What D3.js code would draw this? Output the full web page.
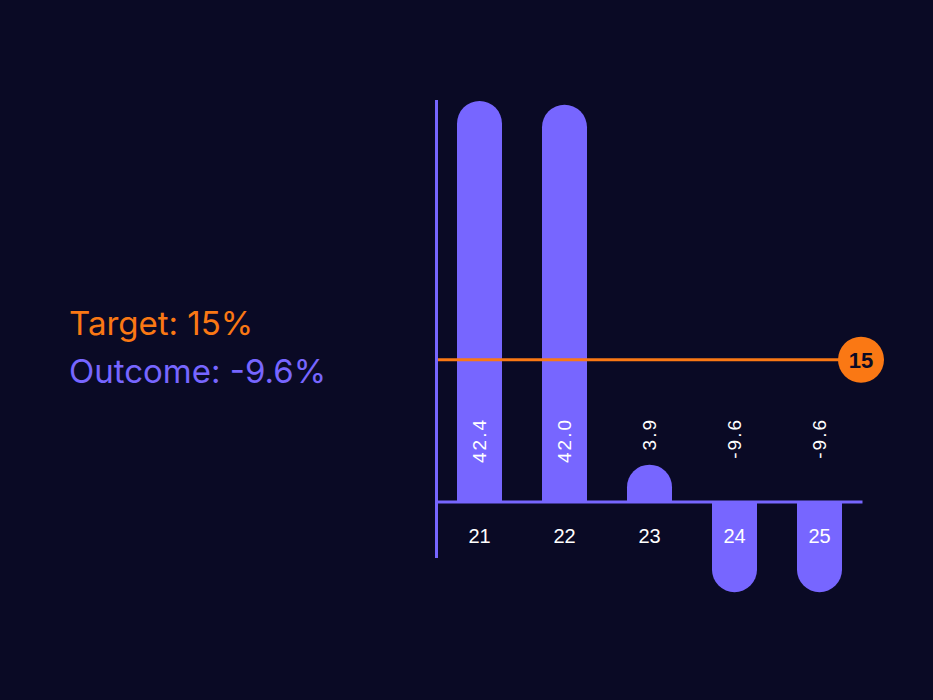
<!DOCTYPE html>
<html>
<head>
<meta charset="utf-8">
<script src="https://cdn.jsdelivr.net/npm/d3@7"></script>
<style>
  html, body { margin: 0; padding: 0; background: #0a0a25; }
  #chart { width: 933px; height: 700px; }
</style>
</head>
<body>
<div id="chart"></div>
<script>
// data
let years = ["21", "22", "23", "24", "25"];
let outcomes = [42.4, 42.0, 3.9, -9.6, -9.6];
let target = 15;
let legendLines = ["Target: 15%", "Outcome: -9.6%"];

let width = 933;
let height = 700;

let purple = "#7766ff";
let orange = "#fa7814";

let svg = d3
  .select("#chart")
  .append("svg")
  .attr("width", width)
  .attr("height", height);

svg.append("rect")
  .attr("width", width)
  .attr("height", height)
  .attr("fill", "#0a0a25");

let xScale = d3
  .scaleBand()
  .domain(years)
  .range([437, 862])
  .paddingInner(40 / 85)
  .paddingOuter(20 / 85);

let yScale = d3
  .scaleLinear()
  .domain([0, 42.4])
  .range([501.5, 101]);

// bars with a round end
function barPath(d, i) {
  let x0 = xScale(years[i]);
  let bw = xScale.bandwidth();
  let r = bw / 2;
  let y0 = yScale(0);
  let y1 = yScale(d);
  if (d >= 0) {
    return "M" + x0 + "," + y0 +
      "V" + (y1 + r) +
      "A" + r + "," + r + " 0 0 1 " + (x0 + bw) + "," + (y1 + r) +
      "V" + y0 + "Z";
  }
  return "M" + x0 + "," + y0 +
    "V" + (y1 - r) +
    "A" + r + "," + r + " 0 0 0 " + (x0 + bw) + "," + (y1 - r) +
    "V" + y0 + "Z";
}

svg.append("g")
  .selectAll("path")
  .data(outcomes)
  .enter()
  .append("path")
  .attr("d", barPath)
  .attr("fill", purple);

// y axis line
svg.append("line")
  .attr("x1", 436.5)
  .attr("x2", 436.5)
  .attr("y1", 100)
  .attr("y2", 558)
  .attr("stroke", purple)
  .attr("stroke-width", 3);

// x axis
let xAxis = d3.axisBottom(xScale).tickSize(0).tickPadding(27);
let gx = svg.append("g")
  .attr("transform", "translate(0," + yScale(0) + ")")
  .call(xAxis);
gx.select(".domain")
  .attr("stroke", purple)
  .attr("stroke-width", 3);
gx.selectAll("text")
  .attr("fill", "#ffffff")
  .attr("font-family", "'Liberation Sans', Arial, sans-serif")
  .attr("font-size", 20);

// value labels
svg.append("g")
  .selectAll("text")
  .data(outcomes)
  .enter()
  .append("text")
  .attr("transform", function(d, i) {
    return "translate(" + (xScale(years[i]) + xScale.bandwidth() / 2) + ",418)rotate(-90)";
  })
  .attr("text-anchor", "end")
  .attr("dy", "0.35em")
  .attr("fill", "#ffffff")
  .attr("font-family", "'Liberation Sans', Arial, sans-serif")
  .attr("font-size", 19)
  .attr("letter-spacing", 2)
  .text(function(d) { return d.toFixed(1); });

// target line
let ty = yScale(target);
svg.append("line")
  .attr("x1", 438)
  .attr("x2", 850)
  .attr("y1", ty)
  .attr("y2", ty)
  .attr("stroke", orange)
  .attr("stroke-width", 3);

svg.append("circle")
  .attr("cx", 861)
  .attr("cy", ty)
  .attr("r", 23)
  .attr("fill", orange);

svg.append("text")
  .attr("x", 861)
  .attr("y", ty)
  .attr("dy", "0.36em")
  .attr("text-anchor", "middle")
  .attr("fill", "#0a0a25")
  .attr("font-family", "'Liberation Sans', Arial, sans-serif")
  .attr("font-weight", "bold")
  .attr("font-size", 22)
  .text(target);

// legend text on the left
svg.append("g")
  .selectAll("text")
  .data(legendLines)
  .enter()
  .append("text")
  .attr("x", 69)
  .attr("y", function(d, i) { return 335 + i * 48; })
  .attr("fill", function(d, i) { return i === 0 ? orange : purple; })
  .attr("font-family", "Inter, sans-serif")
  .attr("font-size", 33)
  .text(function(d) { return d; });
</script>
</body>
</html>
